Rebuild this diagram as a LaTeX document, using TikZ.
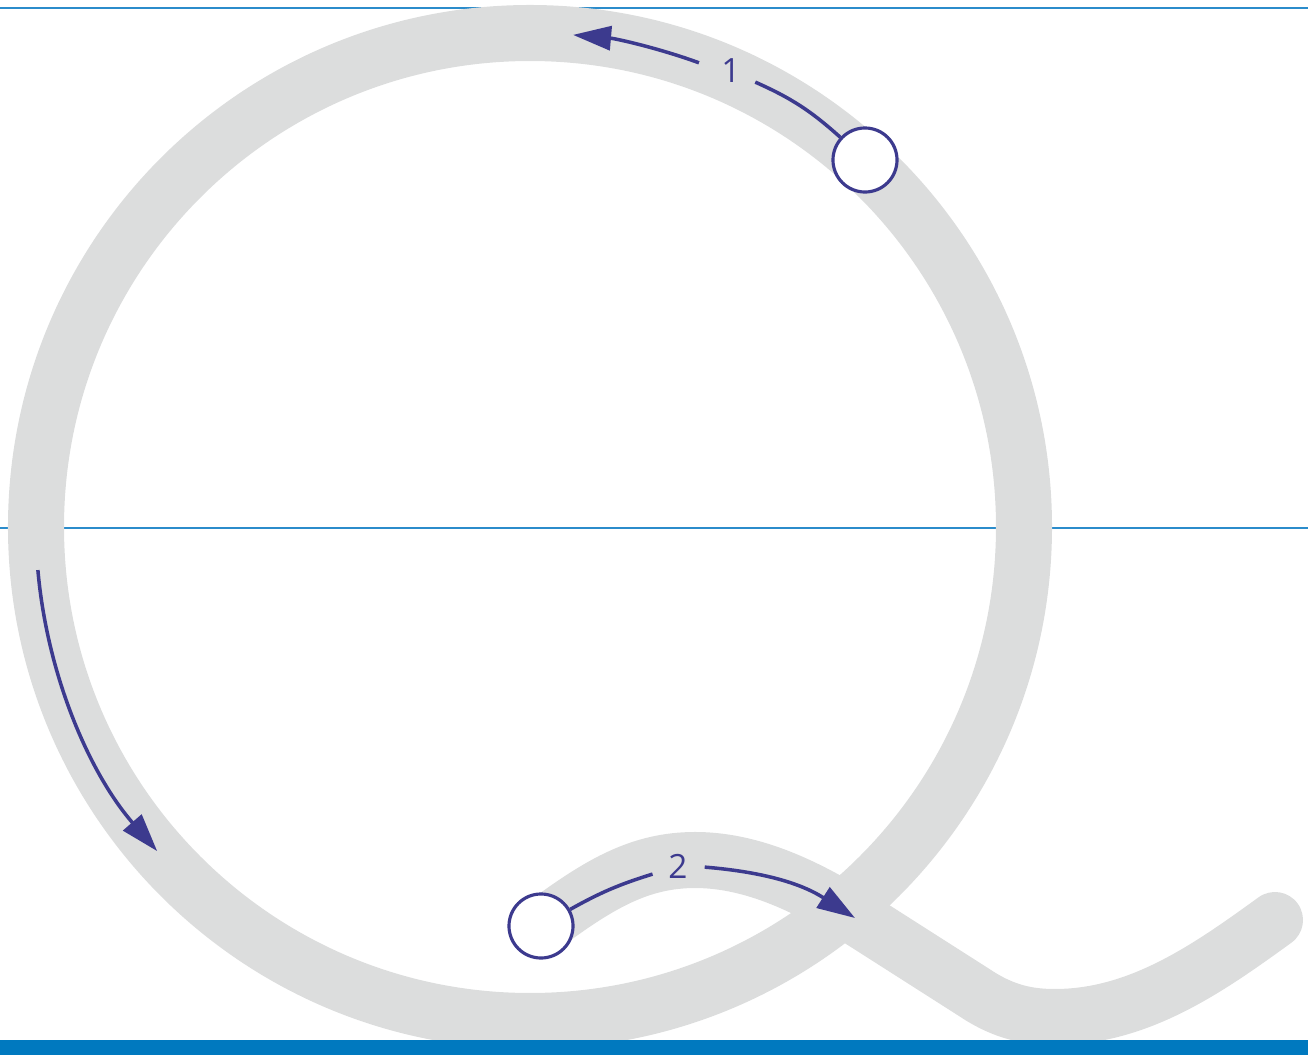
\documentclass[tikz,border=0pt]{standalone}
\usepackage{fontspec}
\setsansfont{Open Sans}
\usetikzlibrary{arrows.meta}
\definecolor{guide}{HTML}{2B8CCB}
\definecolor{baseblue}{HTML}{0079BF}
\definecolor{strokegray}{HTML}{DCDDDD}
\definecolor{penblue}{HTML}{3C3A8E}
\tikzset{
  letter/.style={draw=strokegray, line width=0.56cm, line cap=round},
  startdot/.style={circle, draw=penblue, fill=white, line width=0.9pt, minimum size=0.64cm, inner sep=0pt},
  stepnum/.style={circle, inner sep=0pt, minimum size=0.52cm, text=penblue, font=\sffamily\fontsize{9.5}{10}\selectfont},
  strokeline/.style={draw=penblue, line width=1pt},
  strokearrow/.style={strokeline, -{Triangle[length=0.38cm,width=0.24cm]}},
}

\begin{document}
\begin{tikzpicture}[x=0.01cm, y=0.01cm]
    \useasboundingbox (0,0) rectangle (1308,1059);
    % guide lines
    \draw[guide, line width=0.6pt] (0,1051) -- (1308,1051);
    \draw[guide, line width=0.6pt] (0,531) -- (1308,531);
    % the letter Q
    \coordinate (ring) at (530,532);
    \draw[letter] (ring) circle (494);
    \draw[letter] (548,137) .. controls (600,175) and (640,199) .. (695,199)
        .. controls (760,199) and (820,165) .. (870,133) -- (975,66)
        .. controls (1005,46) and (1030,42) .. (1055,42)
        .. controls (1140,42) and (1210,92) .. (1275,139);
    \fill[baseblue] (0,4) rectangle (1308,19);
    % stroke 1
    \node[startdot] (s1) at (865,899) {};
    \node[stepnum] (n1) at (731,988) {1};
    \path (ring) ++(70:494) coordinate (m1);
    \draw[strokeline] (s1) to[bend right=9] (n1);
    \draw[strokearrow] (m1) arc[start angle=70, end angle=85, radius=494];
    \path (ring) ++(185:494) coordinate (a0);
    \draw[strokearrow] (a0) arc[start angle=185, end angle=221, radius=494];
    % stroke 2
    \node[startdot] (s2) at (541,133) {};
    \node[stepnum] (n2) at (678,193) {2};
    \coordinate (t2) at (855,141);
    \draw[strokeline] (s2) to[bend left=6] (n2);
    \draw[strokearrow] (n2) to[bend left=14] (t2);
  \end{tikzpicture}
\end{document}
